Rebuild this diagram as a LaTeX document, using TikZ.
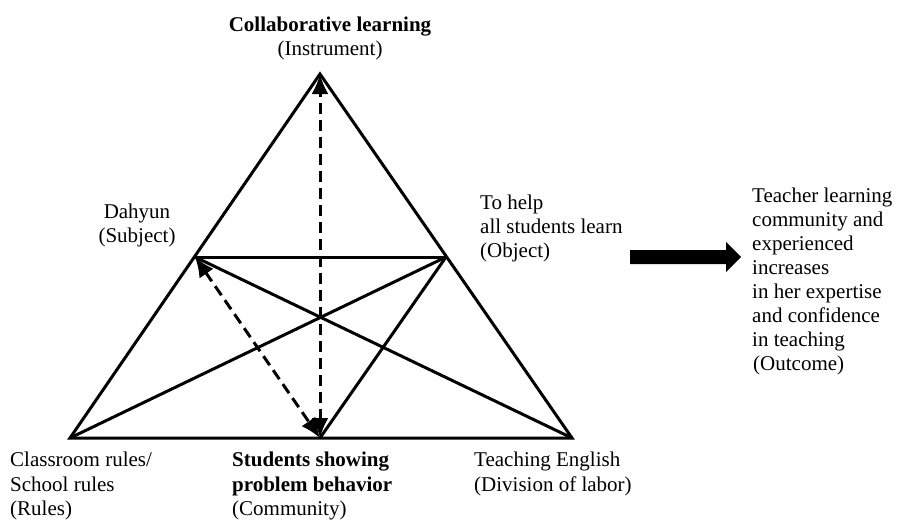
\documentclass[tikz,border=0pt]{standalone}
\usepackage{fontspec}
\setmainfont{Liberation Serif}
\usetikzlibrary{arrows.meta}
\begin{document}
\begin{tikzpicture}[x=1pt,y=-1pt,
  txt/.style={inner sep=0pt, font=\fontsize{21}{24}\selectfont},
  lw/.style={txt, anchor=base west},
  cw/.style={txt, anchor=base},
  edge/.style={line width=3pt, line join=miter, line cap=butt},
  dasharrow/.style={line width=3pt, dash pattern=on 11pt off 6pt, {Latex[length=20pt,width=17pt]}-{Latex[length=20pt,width=17pt]}}
]
\useasboundingbox (0,0) rectangle (898,522);
% vertices
\coordinate (A) at (320,74);
\coordinate (L) at (70,438);
\coordinate (R) at (572,438);
\coordinate (S) at (195,257);
\coordinate (O) at (446,257);
\coordinate (C) at (320,438);
% outer triangle
\draw[edge] (A) -- (L) -- (R) -- cycle;
% inner lines
\draw[edge] (S) -- (O);
\draw[edge] (S) -- (R);
\draw[edge] (O) -- (L);
\draw[edge] (O) -- (C);
% dashed double arrows
\draw[dasharrow] (C) -- (A);
\draw[dasharrow] (S) -- (C);
% outcome arrow
\fill (630,250) -- (726,250) -- (726,242) -- (741,257) -- (726,272) -- (726,264) -- (630,264) -- cycle;
% labels
\node[cw] (ins1) at (330,31) {\bfseries Collaborative learning};
\node[cw] (ins2) at (330,56) {(Instrument)};
\node[cw] (sub1) at (137,218) {Dahyun};
\node[cw] (sub2) at (137,242) {(Subject)};
\node[lw] (obj1) at (480,209) {To help};
\node[lw] (obj2) at (480,233) {all students learn};
\node[lw] (obj3) at (480,257) {(Object)};
\node[lw] (out1) at (752,202) {Teacher learning};
\node[lw] (out2) at (752,226) {community and};
\node[lw] (out3) at (752,250) {experienced};
\node[lw] (out4) at (752,274) {increases};
\node[lw] (out5) at (752,298) {in her expertise};
\node[lw] (out6) at (752,322) {and confidence};
\node[lw] (out7) at (752,346) {in teaching};
\node[lw] (out8) at (753,370) {(Outcome)};
\node[lw] (rul1) at (10,466) {Classroom rules/};
\node[lw] (rul2) at (10,491) {School rules};
\node[lw] (rul3) at (10,515) {(Rules)};
\node[lw] (com1) at (232,466) {\bfseries Students showing};
\node[lw] (com2) at (232,491) {\bfseries problem behavior};
\node[lw] (com3) at (232,515) {(Community)};
\node[lw] (div1) at (474,466) {Teaching English};
\node[lw] (div2) at (474,491) {(Division of labor)};
\end{tikzpicture}
\end{document}
